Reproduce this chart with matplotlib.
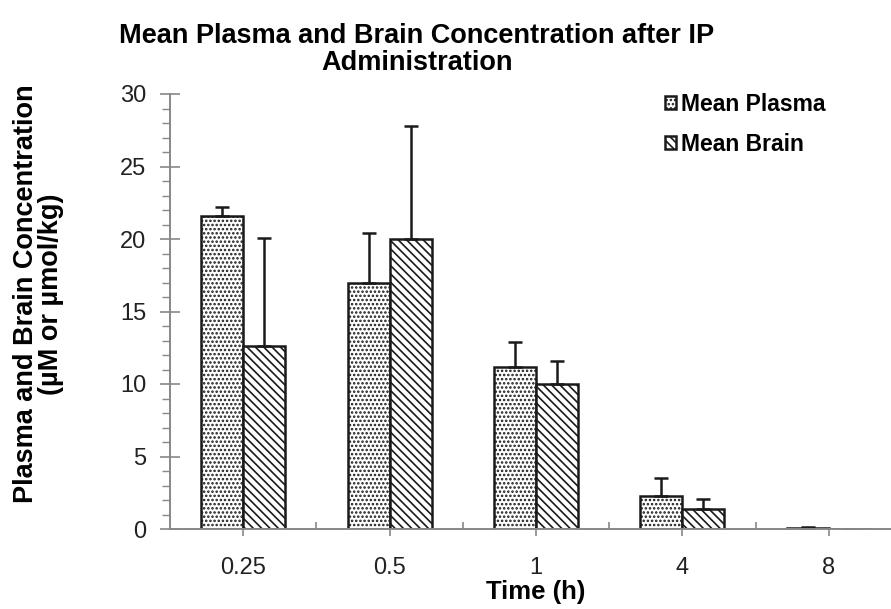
import matplotlib
matplotlib.use("Agg")
import matplotlib.pyplot as plt
from matplotlib.ticker import MultipleLocator
import numpy as np

plt.rcParams["font.family"] = ["Liberation Sans", "DejaVu Sans"]
plt.rcParams["hatch.linewidth"] = 1.2

times = ["0.25", "0.5", "1", "4", "8"]
plasma_mean = [21.6, 17.0, 11.2, 2.25, 0.05]
plasma_err = [0.6, 3.4, 1.7, 1.3, 0.1]
brain_mean = [12.6, 20.0, 10.0, 1.35, 0.0]
brain_err = [7.5, 7.8, 1.6, 0.7, 0.0]

x = np.arange(len(times))
w = 0.287
ink = "#1a1a1a"

fig = plt.figure(figsize=(8.91, 6.09), dpi=100)
# axes run a little past the right edge, like the cropped original
ax = fig.add_axes([170 / 891, 80 / 609, 732 / 891, 435 / 609])

err_style = dict(ecolor=ink, elinewidth=1.8, capsize=5, capthick=1.8)
ax.bar(x - w / 2, plasma_mean, w, color="white", edgecolor=ink, linewidth=1.8,
       hatch="....", label="Mean Plasma",
       yerr=[np.zeros(len(x)), plasma_err], error_kw=err_style)
ax.bar(x + w / 2, brain_mean, w, color="white", edgecolor=ink, linewidth=1.8,
       hatch="\\\\\\\\", label="Mean Brain",
       yerr=[np.zeros(len(x)), brain_err], error_kw=err_style)

ax.set_xlim(-0.5, len(x) - 0.5)
ax.set_ylim(0, 30)
ax.set_yticks(np.arange(0, 31, 5))
ax.yaxis.set_minor_locator(MultipleLocator(1))
ax.set_xticks(x)
ax.set_xticklabels(times)
ax.set_xticks(x[:-1] + 0.5, minor=True)
ax.tick_params(axis="x", which="major", direction="out", length=5, width=1.2, color="#888888",
               labelsize=17, pad=15, labelcolor="#222222")
ax.tick_params(axis="x", which="minor", direction="in", length=5, width=1.2, color="#888888")
ax.tick_params(axis="y", which="major", direction="inout", length=14, width=1.2, color="#888888",
               labelsize=17, pad=10, labelcolor="#222222")
ax.tick_params(axis="y", which="minor", direction="out", length=6, width=1.0, color="#888888")

for s in ["top", "right"]:
    ax.spines[s].set_visible(False)
for s in ["left", "bottom"]:
    ax.spines[s].set_color("#888888")
    ax.spines[s].set_linewidth(1.4)

ax.set_xlabel("Time (h)", fontsize=18.5, fontweight="bold", labelpad=1)
ax.set_ylabel("Plasma and Brain Concentration\n(\u00b5M or \u00b5mol/kg)", fontsize=19.5,
              fontweight="bold", linespacing=0.95)
ax.yaxis.set_label_coords(-0.145, 0.54)

fig.text(0.468, 0.963, "Mean Plasma and Brain Concentration after IP\nAdministration",
         ha="center", va="top", fontsize=19.5, fontweight="bold", linespacing=1.05)

ax.legend(loc="upper left", bbox_to_anchor=(0.676, 1.003), frameon=False,
          handlelength=0.5, handleheight=0.5, handletextpad=0.2, labelspacing=0.75,
          borderpad=0, borderaxespad=0, prop=dict(weight="bold", size=16.5))

fig.savefig("out.png", dpi=100)
